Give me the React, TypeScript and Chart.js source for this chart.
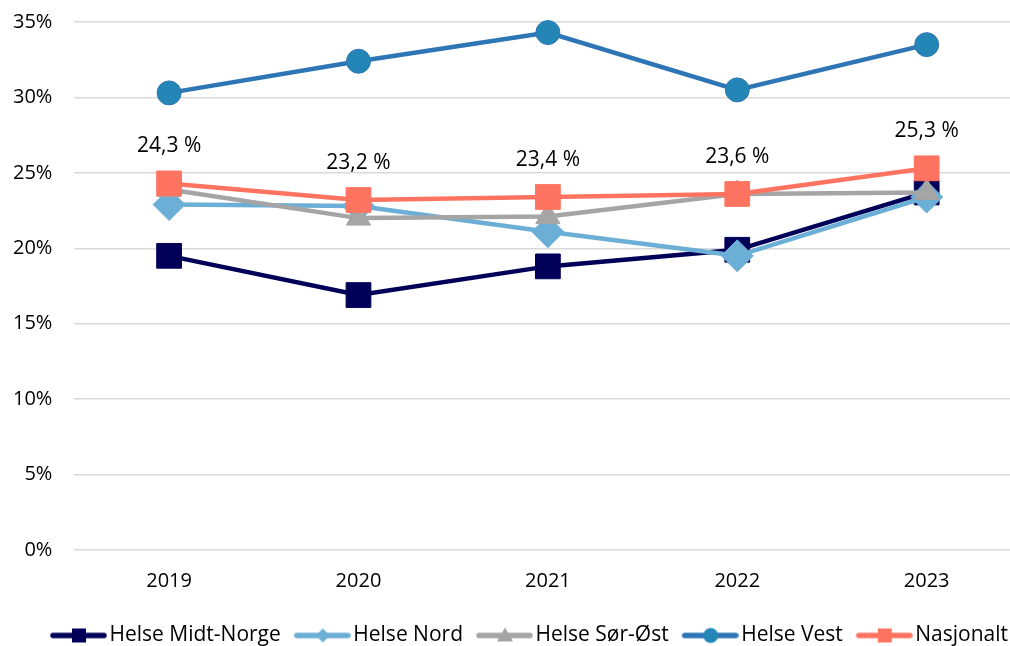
import React, { useEffect, useRef } from "react";
import { Chart, registerables } from "chart.js";
Chart.register(...registerables);

const years = [2019, 2020, 2021, 2022, 2023];
const seriesNames = ["Helse Midt-Norge", "Helse Nord", "Helse Sør-Øst", "Helse Vest", "Nasjonalt"];
const midtNorge = [19.5, 16.9, 18.8, 19.9, 23.7];
const nord = [22.9, 22.8, 21.1, 19.5, 23.4];
const sorOst = [23.9, 22.0, 22.1, 23.6, 23.7];
const vest = [30.3, 32.4, 34.3, 30.5, 33.5];
const nasjonalt = [24.3, 23.2, 23.4, 23.6, 25.3];
const yMin = 0;
const yMax = 35;
const yStep = 5;

const lineColors = ["#000058", "#6BAED6", "#A5A5A5", "#2E75B6", "#FF7461"];
const fillColors = ["#000058", "#6BAED6", "#A5A5A5", "#2486B6", "#FF7461"];
const pointStyles = ["rect", "rectRot", "triangle", "circle", "rect"];
const pointRadii = [17.5, 16, 14, 12, 17.5];

const FONT = "'Open Sans', 'DejaVu Sans', sans-serif";
const Y_TICK_PAD = 22;

function fmt(v: number) {
  return v.toFixed(1).replace(".", ",") + " %";
}

function legendImage(i: number) {
  const c = document.createElement("canvas");
  c.width = 72;
  c.height = 22;
  const ctx = c.getContext("2d")!;
  const cy = 11;
  ctx.strokeStyle = lineColors[i];
  ctx.lineWidth = 5.5;
  ctx.lineCap = "round";
  ctx.beginPath();
  ctx.moveTo(18, cy);
  ctx.lineTo(69, cy);
  ctx.stroke();
  const cx = 44;
  ctx.fillStyle = fillColors[i];
  ctx.beginPath();
  const s = pointStyles[i];
  if (s === "rect") {
    ctx.rect(cx - 7, cy - 7, 14, 14);
  } else if (s === "rectRot") {
    ctx.moveTo(cx - 7, cy);
    ctx.lineTo(cx, cy - 7);
    ctx.lineTo(cx + 7, cy);
    ctx.lineTo(cx, cy + 7);
    ctx.closePath();
  } else if (s === "triangle") {
    ctx.moveTo(cx, cy - 8);
    ctx.lineTo(cx + 8, cy + 6);
    ctx.lineTo(cx - 8, cy + 6);
    ctx.closePath();
  } else {
    ctx.arc(cx, cy, 7.5, 0, Math.PI * 2);
  }
  ctx.fill();
  return c;
}

const labelPlugin = {
  id: "natLabels",
  afterDatasetsDraw(chart: any) {
    const meta = chart.getDatasetMeta(4);
    const ctx = chart.ctx;
    ctx.save();
    ctx.font = `21px ${FONT}`;
    ctx.fillStyle = "#000";
    ctx.textAlign = "center";
    ctx.textBaseline = "middle";
    meta.data.forEach((pt: any, i: number) => {
      ctx.fillText(fmt(nasjonalt[i]), pt.x, pt.y - 37);
    });
    ctx.restore();
  },
};

const legendShift = {
  id: "legendShift",
  afterLayout(chart: any) {
    const l = chart.legend;
    if (l) {
      l.left += 14;
      l.right += 14;
    }
  },
};

export default function App() {
  const ref = useRef<HTMLCanvasElement>(null);
  useEffect(() => {
    const all = [midtNorge, nord, sorOst, vest, nasjonalt];
    const imgs = all.map((_, i) => legendImage(i));
    const defaultGen = (Chart.defaults as any).plugins.legend.labels.generateLabels;
    const chart = new Chart(ref.current!, {
      type: "line",
      data: {
        datasets: all.map((vals, i) => ({
          label: seriesNames[i],
          data: vals.map((v, j) => ({ x: years[j], y: v })),
          borderColor: lineColors[i],
          backgroundColor: fillColors[i],
          pointBackgroundColor: fillColors[i],
          pointBorderColor: lineColors[i],
          pointBorderWidth: 1,
          pointStyle: pointStyles[i] as any,
          pointRadius: pointRadii[i],
          pointHoverRadius: pointRadii[i],
          borderWidth: 4.5,
          tension: 0,
          order: all.length - i,
          clip: false as any,
        })),
      },
      options: {
        animation: false,
        responsive: true,
        maintainAspectRatio: false,
        layout: { autoPadding: false, padding: { left: 13, top: 22, right: 0, bottom: -10 } },
        scales: {
          x: {
            type: "linear",
            min: 2018.5,
            max: 2023.44,
            grid: { display: false, drawTicks: false },
            border: { display: false },
            ticks: {
              stepSize: 1,
              includeBounds: false,
              padding: 19,
              color: "#000",
              font: { family: FONT, size: 20 },
              callback: (v: any) => String(v),
            },
            afterFit: (s: any) => {
              s.paddingLeft = 0;
              s.paddingRight = 0;
              s.height += 7;
            },
          },
          y: {
            min: yMin,
            max: yMax,
            grid: { color: "#D9D9D9", lineWidth: 1.5, drawTicks: false },
            border: { display: false },
            ticks: {
              stepSize: yStep,
              padding: Y_TICK_PAD,
              color: "#000",
              font: { family: FONT, size: 20 },
              callback: (v: any) => v + "%",
            },
            afterFit: (s: any) => {
              s.paddingTop = 0;
              s.paddingBottom = 0;
              s.width -= Y_TICK_PAD;
            },
          },
        },
        plugins: {
          tooltip: { enabled: false },
          legend: {
            position: "bottom",
            labels: {
              usePointStyle: true,
              pointStyleWidth: 56,
              padding: 6,
              color: "#000",
              font: { family: FONT, size: 21 },
              sort: (a: any, b: any) => a.datasetIndex - b.datasetIndex,
              generateLabels: (c: any) =>
                defaultGen(c).map((it: any) => ({ ...it, pointStyle: imgs[it.datasetIndex] })),
            },
          },
        },
      },
      plugins: [labelPlugin, legendShift],
    });
    return () => chart.destroy();
  }, []);
  return (
    <div style={{ position: "fixed", left: 0, top: 0, width: 1010, height: 646, background: "#fff" }}>
      <canvas ref={ref} />
    </div>
  );
}
